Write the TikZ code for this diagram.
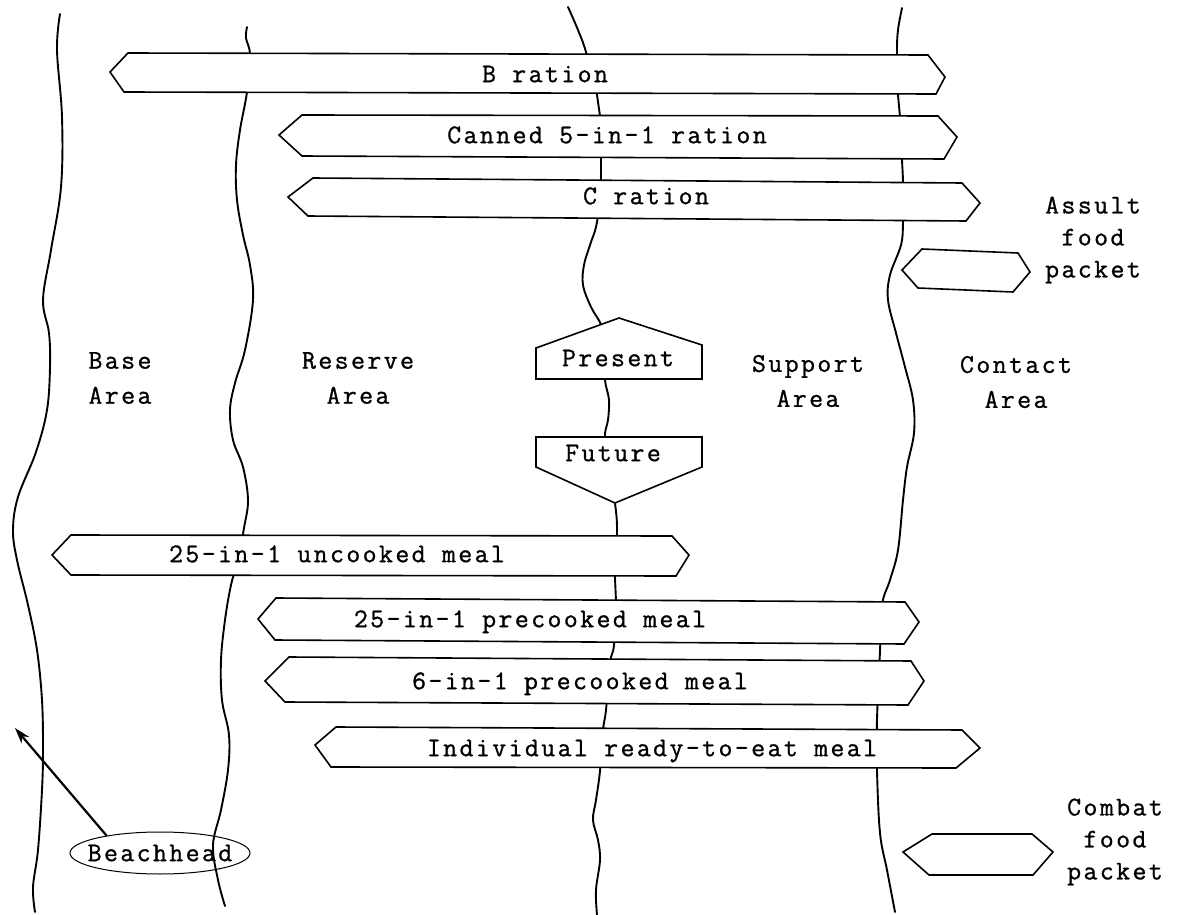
\documentclass[tikz,border=0pt]{standalone}
\usepackage{fontspec}
\newfontfamily\tw{Latin Modern Mono}[LetterSpace=9,FakeBold=1]
\usetikzlibrary{shapes.geometric,arrows.meta}
\begin{document}
\begin{tikzpicture}[x=0.5pt,y=-0.5pt,
  zone/.style={line width=0.95pt,line cap=round,line join=round},
  ration/.style={draw,fill=white,line width=0.8pt,line join=miter},
  lbl/.style={font=\tw\fontsize{13.5}{17}\selectfont,inner sep=0pt,text height=8.2pt,text depth=0pt},
  area/.style={font=\tw\fontsize{13.5}{17.5}\selectfont,inner sep=0pt,align=center},
  packlbl/.style={font=\tw\fontsize{13.5}{16}\selectfont,inner sep=0pt,align=center},
  beach/.style={draw,ellipse,line width=0.5pt,minimum width=90pt,minimum height=21pt,inner sep=0pt,font=\tw\fontsize{13.5}{16}\selectfont},
  pointer/.style={line width=1.1pt,-{Stealth[length=8pt,width=5pt]}}]
\useasboundingbox (0,0) rectangle (1190,915);
% zone boundaries
\draw[zone] plot[smooth,tension=0.6] coordinates {(60,14) (57,50) (62,117) (61,187) (51,250) (43,300) (49,333) (50,367) (47,410) (36,452) (18,497) (13,530) (17,560) (28,605) (37,650) (42,700) (43,750) (42,790) (38,850) (33,887) (35,912)};
\draw[zone] plot[smooth,tension=0.6] coordinates {(247,27) (246,38) (250,55) (247,92) (240,130) (236,165) (237,200) (243,235) (250,265) (253,300) (245,350) (235,383) (230,410) (233,440) (243,467) (248,500) (244,528) (238,560) (231,585) (225,620) (221,660) (222,700) (229,735) (228,770) (221,810) (213,845) (218,880) (225,906)};
\draw[zone] plot[smooth,tension=0.6] coordinates {(568,7) (578,30) (586,52) (597,95) (600,116) (601,158) (601,179) (597,222) (590,245) (584,265) (583,285) (591,307) (602,327) (604,350) (605,380) (609,400) (608,420) (605,437) (610,470) (615,503) (617,530) (615,578) (616,601) (614,645) (610,663) (606,710) (603,730) (600,771) (596,800) (593,820) (598,840) (600,860) (596,890) (597,915)};
\draw[zone] plot[smooth,tension=0.6] coordinates {(902,8) (898,30) (897,52) (898,95) (900,117) (902,160) (903,183) (903,222) (901,245) (890,275) (888,300) (896,333) (905,367) (913,400) (914,433) (907,467) (903,500) (898,550) (890,580) (882,605) (880,651) (877,720) (877,770) (880,833) (887,870) (895,912)};
% ration bars
\draw[ration] (110,72) -- (128,53) -- (928,55) -- (945,77) -- (936,94) -- (124,92) -- cycle;
\node[lbl] (bration) at (545,74) {B ration};
\draw[ration] (279,135) -- (302,115) -- (938,116) -- (957,137) -- (944,159) -- (302,156) -- cycle;
\node[lbl] (canned) at (607,135) {Canned 5-in-1 ration};
\draw[ration] (288,197) -- (313,178) -- (962,183) -- (980,203) -- (966,221) -- (308,216) -- cycle;
\node[lbl] (cration) at (646,196) {C ration};
\draw[ration] (902,270) -- (922,249) -- (1018,253) -- (1030,272) -- (1013,292) -- (918,288) -- cycle;
\node[packlbl] (assult) at (1093,240) {Assult\\food\\packet};
% present / future
\draw[ration] (536,379) -- (536,348) -- (619,318) -- (702,345) -- (702,379) -- cycle;
\node[lbl] (present) at (618,358) {Present};
\draw[ration] (536,437) -- (702,437) -- (702,467) -- (615,503) -- (536,467) -- cycle;
\node[lbl] (future) at (613,453) {Future};
% areas
\node[area] (base) at (120,378) {Base\\Area};
\node[area] (reserve) at (358,378) {Reserve\\Area};
\node[area] (support) at (808,381) {Support\\Area};
\node[area] (contact) at (1016,382) {Contact\\Area};
% lower bars
\draw[ration] (52,555) -- (71,535) -- (672,536) -- (689,555) -- (676,576) -- (71,575) -- cycle;
\node[lbl] (uncooked) at (337,554) {25-in-1 uncooked meal};
\draw[ration] (258,619) -- (276,598) -- (905,602) -- (919,622) -- (904,644) -- (275,640) -- cycle;
\node[lbl] (pre25) at (530,619) {25-in-1 precooked meal};
\draw[ration] (265,681) -- (289,657) -- (911,661) -- (924,681) -- (908,705) -- (285,702) -- cycle;
\node[lbl] (pre6) at (580,681) {6-in-1 precooked meal};
\draw[ration] (315,745) -- (336,727) -- (962,730) -- (980,748) -- (956,768) -- (331,767) -- cycle;
\node[lbl] (indiv) at (652,748) {Individual ready-to-eat meal};
\draw[ration] (903,852) -- (932,834) -- (1032,834) -- (1053,852) -- (1033,875) -- (929,875) -- cycle;
\node[packlbl] (combat) at (1115,842) {Combat\\food\\packet};
% beachhead
\node[beach] (bh) at (160,853) {\makebox[0pt]{Beachhead}};
\coordinate (btip) at (15,728);
\draw[pointer] (bh.162) -- (btip);
\end{tikzpicture}
\end{document}
